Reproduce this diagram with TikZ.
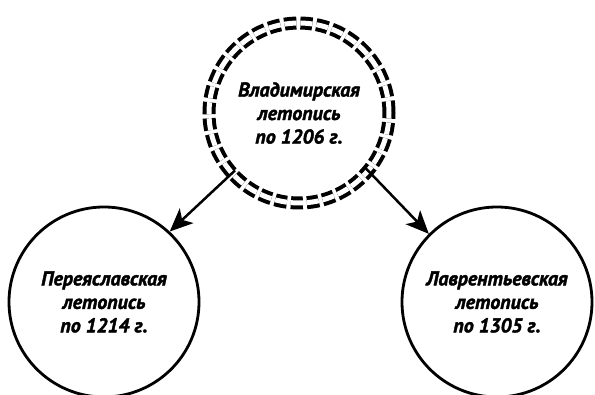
\documentclass[tikz,border=0pt]{standalone}
\usepackage{fontspec}
\setmainfont{PT Sans}[BoldItalicFeatures={FakeBold=1.8}]
\usetikzlibrary{arrows.meta}
\begin{document}
\begin{tikzpicture}[x=1pt,y=-1pt,
  txt/.style={font=\bfseries\itshape\fontsize{20}{23.5}\selectfont, align=center},
  plain/.style={circle, draw, line width=2.8pt, minimum size=190pt, inner sep=0pt},
  ring/.style={circle, draw, double, double distance=5pt, line width=4pt,
    dash pattern=on 12pt off 4pt, minimum size=180pt, inner sep=0pt},
  arr/.style={line width=2.5pt, -{Stealth[length=23pt,width=20pt,inset=6pt]}}]
\useasboundingbox (0,0) rectangle (595,395);
\node[ring, txt] (top) at (299,113) {Владимирская\\летопись\\по 1206 г.};
\node[plain, txt] (left) at (104,302) {Переяславская\\летопись\\по 1214 г.};
\node[plain, txt] (right) at (497,302) {Лаврентьевская\\летопись\\по 1305 г.};
\draw[arr, shorten <=-6pt] (top.222) -- (left.47);
\draw[arr, shorten <=-6pt] (top.-40) -- (right.135);
\end{tikzpicture}
\end{document}
